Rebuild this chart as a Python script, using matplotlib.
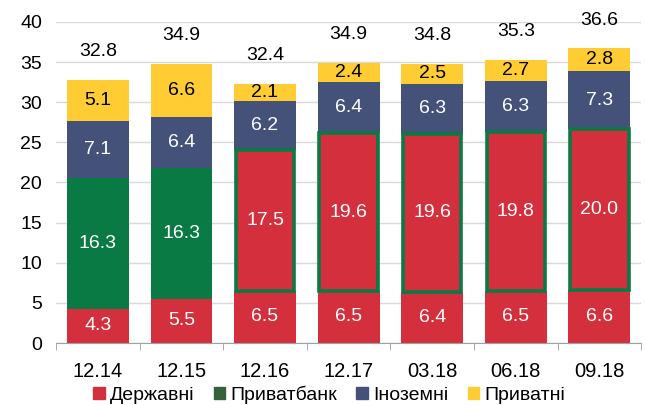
import matplotlib
matplotlib.use("Agg")
import matplotlib.pyplot as plt
from matplotlib.patches import Patch
import numpy as np

categories = ["12.14", "12.15", "12.16", "12.17", "03.18", "06.18", "09.18"]
derzhavni = [4.3, 5.5, 6.5, 6.5, 6.4, 6.5, 6.6]
privatbank = [16.3, 16.3, 17.5, 19.6, 19.6, 19.8, 20.0]
inozemni = [7.1, 6.4, 6.2, 6.4, 6.3, 6.3, 7.3]
pryvatni = [5.1, 6.6, 2.1, 2.4, 2.5, 2.7, 2.8]
totals = ["32.8", "34.9", "32.4", "34.9", "34.8", "35.3", "36.6"]
# from 12.16 onward Приватбанк is state-owned
nationalized = [False, False, True, True, True, True, True]

RED = "#D32F3C"
GREEN = "#0A7A45"
BLUE = "#44527A"
YELLOW = "#FFCC33"

plt.rcParams["font.family"] = ["Liberation Sans", "DejaVu Sans"]

fig = plt.figure(figsize=(6.45, 4.05), dpi=100)
ax = fig.add_axes([0.087, 0.153, 0.907, 0.793])

x = np.arange(len(categories))
w = 0.74

ax.bar(x, derzhavni, w, color=RED, zorder=2)

pb_colors = [RED if n else GREEN for n in nationalized]
pb_edges = [GREEN if n else "none" for n in nationalized]
pb_width = [w - 0.04 if n else w for n in nationalized]
ax.bar(x, privatbank, pb_width, bottom=derzhavni, color=pb_colors,
       edgecolor=pb_edges, linewidth=2.6, zorder=3)

b2 = np.array(derzhavni) + np.array(privatbank)
ax.bar(x, inozemni, w, bottom=b2, color=BLUE, zorder=2)
b3 = b2 + np.array(inozemni)
ax.bar(x, pryvatni, w, bottom=b3, color=YELLOW, zorder=2)

fs = 14
for i in range(len(categories)):
    ax.text(x[i], derzhavni[i] / 2, f"{derzhavni[i]:.1f}", ha="center", va="center",
            color="white", fontsize=fs, zorder=4)
    ax.text(x[i], derzhavni[i] + privatbank[i] / 2, f"{privatbank[i]:.1f}",
            ha="center", va="center", color="white", fontsize=fs, zorder=4)
    ax.text(x[i], b2[i] + inozemni[i] / 2, f"{inozemni[i]:.1f}", ha="center",
            va="center", color="white", fontsize=fs, zorder=4)
    ax.text(x[i], b3[i] + pryvatni[i] / 2, f"{pryvatni[i]:.1f}", ha="center",
            va="center", color="black", fontsize=fs, zorder=4)
    ax.text(x[i], b3[i] + pryvatni[i] + 3.5, totals[i], ha="center", va="center",
            color="black", fontsize=fs, zorder=4)

ax.set_ylim(0, 40)
ax.set_yticks(range(0, 41, 5))
ax.set_xlim(-0.5, len(categories) - 0.5)
ax.set_xticks(x)
ax.set_xticklabels(categories)
ax.set_xticks(np.arange(-0.5, len(categories)), minor=True)
ax.tick_params(axis="x", which="major", length=0, pad=14, labelsize=14.5)
ax.tick_params(axis="x", which="minor", length=5, color="#A0A0A0")
ax.tick_params(axis="y", length=0, labelsize=14, pad=10)
ax.grid(axis="y", color="#D9D9D9", linewidth=1, zorder=0)
ax.set_axisbelow(True)
for s in ["left", "right", "top"]:
    ax.spines[s].set_visible(False)
ax.spines["bottom"].set_color("#A0A0A0")

handles = [Patch(color=RED), Patch(color="#35623A"), Patch(color=BLUE), Patch(color=YELLOW)]
labels = ["Державні", "Приватбанк", "Іноземні", "Приватні"]
fig.legend(handles, labels, loc="center", bbox_to_anchor=(0.51, 0.026), ncol=4,
           frameon=False, fontsize=14, handlelength=0.6, handleheight=0.6,
           handletextpad=0.25, columnspacing=1.0)

fig.savefig("out.png", dpi=100)
